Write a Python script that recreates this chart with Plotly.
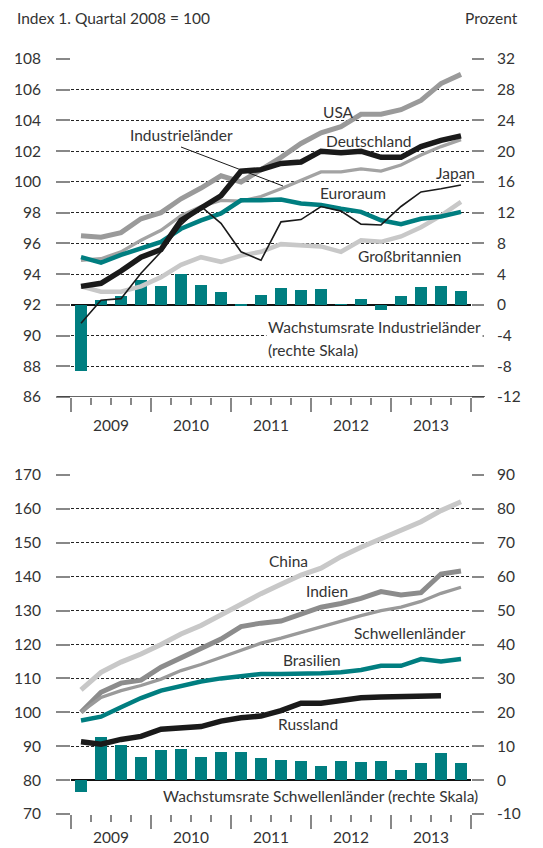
import plotly.graph_objects as go

# Quartale 2009 Q1 bis 2013 Q4 (Index 0..19)
quarters = list(range(20))
years = ["2009", "2010", "2011", "2012", "2013"]

# Industrieländer, Index 1. Quartal 2008 = 100
usa = [96.5, 96.4, 96.7, 97.6, 98.0, 98.9, 99.6, 100.4, 100.0, 100.8,
       101.6, 102.5, 103.2, 103.6, 104.4, 104.4, 104.7, 105.3, 106.4, 107.0]
deutschland = [93.2, 93.4, 94.2, 95.1, 95.6, 97.5, 98.3, 99.1, 100.7, 100.8,
               101.2, 101.3, 102.0, 101.9, 102.0, 101.6, 101.6, 102.3, 102.7, 103.0]
industrie = [94.9, 95.0, 95.45, 96.2, 96.85, 97.8, 98.4, 98.8, 98.75, 99.05,
             99.55, 100.1, 100.65, 100.65, 100.85, 100.7, 101.1, 101.75, 102.3, 102.75]
euroraum = [95.1, 94.75, 95.25, 95.65, 96.1, 96.95, 97.5, 97.95, 98.8, 98.8,
            98.85, 98.6, 98.5, 98.25, 98.05, 97.5, 97.25, 97.6, 97.75, 98.05]
japan = [90.8, 92.3, 92.4, 94.05, 95.45, 97.2, 98.4, 97.3, 95.45, 94.9,
         97.4, 97.55, 98.4, 98.1, 97.25, 97.2, 98.4, 99.35, 99.55, 99.8]
gb = [93.2, 92.85, 92.85, 93.2, 93.8, 94.6, 95.1, 94.8, 95.2, 95.45,
      95.95, 95.85, 95.8, 95.45, 96.2, 96.1, 96.45, 97.05, 97.8, 98.7]
growth_ind = [-8.6, 0.65, 1.15, 3.25, 2.45, 4.05, 2.6, 1.65, -0.15, 1.3,
              2.15, 1.95, 2.05, 0.05, 0.8, -0.65, 1.1, 2.3, 2.45, 1.8]
ticks_ind = [-12, -8, -4, 0, 4, 8, 12, 16, 20, 24, 28, 32]

# Schwellenländer
china = [106.6, 111.8, 114.8, 117.2, 120.0, 123.1, 125.6, 128.8, 131.8, 135.0,
         137.8, 140.5, 142.5, 145.9, 148.7, 151.3, 153.6, 156.2, 159.5, 162.1]
indien = [100.0, 105.9, 108.6, 109.5, 113.3, 116.2, 118.9, 121.6, 125.3, 126.3,
          126.9, 129.0, 131.0, 132.1, 133.6, 135.6, 134.6, 135.3, 140.8, 141.7]
schwellen = [100.0, 104.4, 106.4, 107.9, 109.8, 112.3, 114.1, 116.2, 118.4, 120.4,
             121.9, 123.6, 125.1, 126.9, 128.5, 130.0, 131.0, 132.7, 135.1, 136.9]
brasilien = [97.6, 98.7, 101.5, 104.2, 106.4, 107.9, 109.1, 110.0, 110.8, 111.3,
             111.3, 111.3, 111.5, 111.8, 112.5, 113.7, 113.7, 115.7, 115.0, 115.7]
russland = [91.3, 90.6, 92.0, 92.9, 95.0, 95.5, 95.8, 97.4, 98.4, 98.9,
            100.5, 102.7, 102.7, 103.5, 104.3, 104.5, 104.6, 104.6, 104.9]
growth_em = [-3.4, 12.7, 10.3, 6.9, 8.8, 9.1, 6.9, 8.3, 8.3, 6.6,
             5.9, 5.6, 4.1, 5.6, 5.3, 5.6, 2.9, 5.1, 8.0, 5.1]
ticks_em = [-10, 0, 10, 20, 30, 40, 50, 60, 70, 80, 90]

TEAL = "#007e80"
FONT = "Lato"
FS = 15.5
TXT = "#333333"
TICK = "#888888"

W, H = 543, 848
L, R, T, B = 71, 72, 59, 34
PW, PH = W - L - R, H - T - B


def px(x):
    return (x - L) / PW


def py(y):
    return (H - B - y) / PH


fig = go.Figure()

# oberes Diagramm
fig.add_trace(go.Bar(x=quarters, y=growth_ind, marker_color=TEAL, marker_line_width=0,
                     width=0.6, xaxis="x", yaxis="y"))
top_lines = [
    (gb, "#c8c8c8", 4.5),
    (industrie, "#a3a3a3", 3.3),
    (usa, "#9a9a9a", 5),
    (euroraum, TEAL, 4.5),
    (japan, "#1a1a1a", 1.6),
    (deutschland, "#1a1a1a", 5.5),
]
for vals, col, w in top_lines:
    fig.add_trace(go.Scatter(x=quarters, y=vals, mode="lines", xaxis="x", yaxis="y2",
                             line=dict(color=col, width=w)))

# unteres Diagramm
fig.add_trace(go.Bar(x=quarters, y=growth_em, marker_color=TEAL, marker_line_width=0,
                     width=0.6, xaxis="x2", yaxis="y3"))
bottom_lines = [
    (china, "#c8c8c8", 5),
    (indien, "#8c8c8c", 5),
    (schwellen, "#9a9a9a", 3.3),
    (brasilien, TEAL, 4.5),
    (russland, "#1a1a1a", 5.5),
]
for vals, col, w in bottom_lines:
    fig.add_trace(go.Scatter(x=quarters[:len(vals)], y=vals, mode="lines", xaxis="x2", yaxis="y4",
                             line=dict(color=col, width=w)))

tickfont = dict(family=FONT, size=FS, color=TXT)
year_edges = [-0.5, 3.5, 7.5, 11.5, 15.5, 19.5]
xax = dict(range=[-0.5, 19.5], tickmode="array", tickvals=year_edges, ticks="outside",
           ticklen=14, tickwidth=1.5, tickcolor=TICK, showticklabels=False,
           showgrid=False, zeroline=False, showline=False,
           minor=dict(tickmode="array", tickvals=[i - 0.5 for i in range(21)], ticks="outside",
                      ticklen=7, tickwidth=1.5, tickcolor=TICK, showgrid=False))
grid = dict(showgrid=True, gridcolor="#222222", gridwidth=1, griddash="3px,2px")
right = dict(side="right", ticks="outside", ticklen=12, tickwidth=1.5, tickcolor=TICK,
             tickfont=tickfont, ticklabelstandoff=10, showgrid=False, showline=False,
             zeroline=True, zerolinecolor="#111111", zerolinewidth=2, tickmode="array")
left = dict(side="left", ticks="outside", ticklen=14, tickwidth=1.5, tickcolor=TICK,
            tickfont=tickfont, ticklabelstandoff=12, zeroline=False, showline=False, **grid)

fig.update_layout(
    width=W, height=H, showlegend=False,
    margin=dict(l=L, r=R, t=T, b=B, autoexpand=False),
    paper_bgcolor="white", plot_bgcolor="white",
    font=dict(family=FONT, size=FS, color=TXT),
    bargap=0,
    xaxis=dict(domain=[0, 1], anchor="y", **xax),
    yaxis=dict(domain=[py(397), 1], anchor="x", range=[-12, 32],
               tickvals=ticks_ind, ticktext=[str(v) for v in ticks_ind], **right),
    yaxis2=dict(overlaying="y", anchor="x", range=[86, 108], dtick=2, tick0=86, **left),
    xaxis2=dict(domain=[0, 1], anchor="y3", **xax),
    yaxis3=dict(domain=[0, py(475)], anchor="x2", range=[-10, 90],
                tickvals=ticks_em, ticktext=[str(v) for v in ticks_em], **right),
    yaxis4=dict(overlaying="y3", anchor="x2", range=[70, 170], dtick=10, tick0=70, **left),
)

shapes = [
    # untere Achsenlinie oben
    dict(type="line", xref="x domain", yref="y", x0=px(57), x1=px(485), y0=-12, y1=-12,
         line=dict(color="#333333", width=1.5)),
    # Hinweislinie Industrieländer
    dict(type="line", xref="paper", yref="paper", x0=px(181), y0=py(147), x1=px(283), y1=py(186),
         line=dict(color="#1a1a1a", width=1)),
]
fig.update_layout(shapes=shapes)


def ann(text, x, y, xanchor="center", bg=None):
    a = dict(text=text, x=px(x), y=py(y), xref="paper", yref="paper", showarrow=False,
             xanchor=xanchor, yanchor="middle", font=dict(family=FONT, size=FS, color=TXT))
    if bg:
        a["bgcolor"] = bg
    fig.add_annotation(**a)


ann("Index 1. Quartal 2008 = 100", 15, 18, "left")
ann("Prozent", 520, 18, "right")
ann("USA", 338, 112)
ann("Industrieländer", 181, 135)
ann("Deutschland", 369, 141)
ann("Japan", 455, 173)
ann("Euroraum", 353, 193)
ann("Großbritannien", 409, 256)
ann("Wachstumsrate Industrieländer", 266, 327, "left", "white")
ann("(rechte Skala)", 266, 350, "left")
ann("China", 288, 561)
ann("Indien", 327, 591)
ann("Schwellenländer", 410, 633, bg="white")
ann("Brasilien", 312, 660)
ann("Russland", 308, 724)
ann("Wachstumsrate Schwellenländer (rechte Skala)", 320, 796)

# Jahresbeschriftungen zwischen den Jahresstrichen
for i, yr in enumerate(years):
    for xref, yref, off in (("x", "y domain", -28 / (397 - 59)), ("x2", "y3 domain", -23 / (814 - 475))):
        fig.add_annotation(text=yr, x=i * 4 + 1.5, xref=xref, y=off, yref=yref,
                           showarrow=False, yanchor="middle",
                           font=dict(family=FONT, size=FS, color=TXT))

fig.write_html("out.html", config={"displayModeBar": False},
               post_script="document.body.style.margin='0px';")
